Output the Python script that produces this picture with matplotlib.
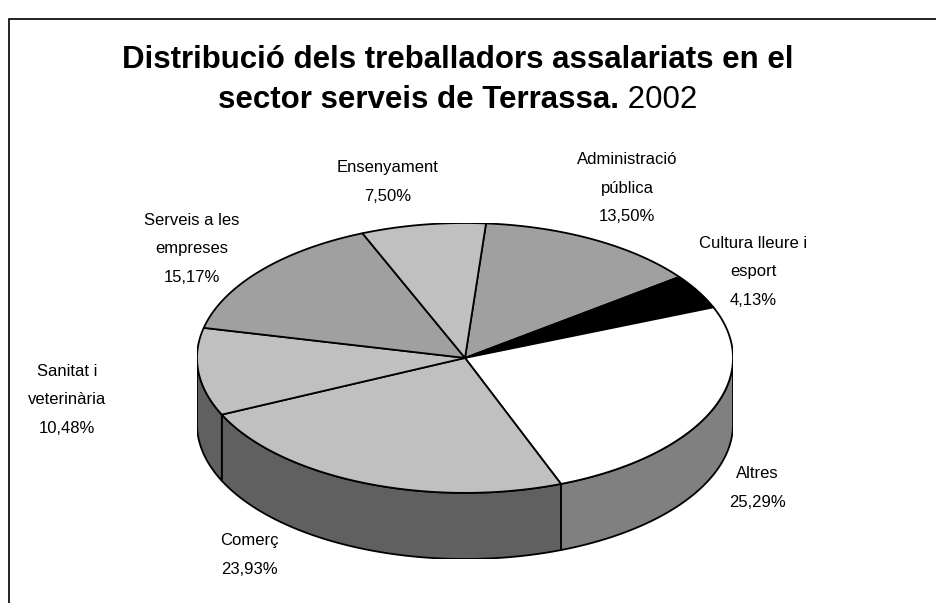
import numpy as np
import matplotlib.pyplot as plt
from matplotlib.patches import Polygon, Rectangle
from matplotlib.colors import to_rgb

plt.rcParams['font.family'] = ['Liberation Sans', 'DejaVu Sans']

# dades (percentatges de treballadors assalariats, sector serveis, 2002)
labels = ['Administració\npública', 'Cultura lleure i\nesport', 'Altres', 'Comerç',
          'Sanitat i\nveterinària', 'Serveis a les\nempreses', 'Ensenyament']
values = [13.50, 4.13, 25.29, 23.93, 10.48, 15.17, 7.50]
top_colors = ['#a0a0a0', '#000000', '#ffffff', '#c0c0c0', '#c0c0c0', '#a0a0a0', '#c0c0c0']

# posicio del centre de cada etiqueta (pixels de la imatge)
label_pos = [(627, 188), (753, 272), (757, 488), (249, 555), (67, 400), (192, 249), (388, 182)]

W, H = 936, 603
start_angle = 85.5   # graus, sentit horari
depth = 0.49         # gruix del pastis en unitats del radi vertical

fig = plt.figure(figsize=(W / 100, H / 100), dpi=100)

# marc del grafic (nomes es veuen la vora superior i l'esquerra)
fig.add_artist(Rectangle((9 / W, -0.5), 2, 0.5 + 1 - 19 / H, transform=fig.transFigure,
                         fill=False, ec='black', lw=1.2))

ax = fig.add_axes([197 / W, 44 / H, 536 / W, 336 / H])
ax.set_xlim(-1, 1)
ax.set_ylim(-1 - depth, 1)
ax.axis('off')

frac = np.array(values) / sum(values)
ends = start_angle - 360 * np.cumsum(frac)
starts = np.r_[start_angle, ends[:-1]]

# cares laterals (nomes la meitat davantera)
for s, e, c in zip(starts, ends, top_colors):
    side = tuple(0.5 * np.array(to_rgb(c)))
    for k in (-360, 0, 360):
        lo = max(e, -180 + k)
        hi = min(s, k)
        if hi > lo:
            t = np.radians(np.linspace(lo, hi, 120))
            xs, ys = np.cos(t), np.sin(t)
            pts = np.r_[np.c_[xs, ys], np.c_[xs[::-1], ys[::-1] - depth]]
            ax.add_patch(Polygon(pts, closed=True, fc=side, ec='black', lw=1.3,
                                 joinstyle='round'))

# cara superior
for s, e, c in zip(starts, ends, top_colors):
    t = np.radians(np.linspace(e, s, 200))
    pts = np.r_[[[0, 0]], np.c_[np.cos(t), np.sin(t)]]
    ax.add_patch(Polygon(pts, closed=True, fc=c, ec='black', lw=1.3, joinstyle='round'))

# etiquetes
for lab, v, (px, py) in zip(labels, values, label_pos):
    txt = lab + '\n' + f'{v:.2f}'.replace('.', ',') + '%'
    fig.text(px / W, 1 - py / H, txt, ha='center', va='center', multialignment='center',
             fontsize=12, linespacing=2.15, color='black')

# titol
fig.text(458 / W, 1 - 60 / H, 'Distribució dels treballadors assalariats en el',
         ha='center', va='center', fontsize=22.5, fontweight='bold')
t1 = fig.text(0, 1 - 100 / H, 'sector serveis de Terrassa.', ha='left', va='center',
              fontsize=22.5, fontweight='bold')
t2 = fig.text(0, 1 - 100 / H, ' 2002', ha='left', va='center', fontsize=22.5)
fig.canvas.draw()
r = fig.canvas.get_renderer()
w1 = t1.get_window_extent(r).width
w2 = t2.get_window_extent(r).width
x0 = 458 - (w1 + w2) / 2
t1.set_x(x0 / W)
t2.set_x((x0 + w1) / W)

fig.savefig('out.png', dpi=100)
